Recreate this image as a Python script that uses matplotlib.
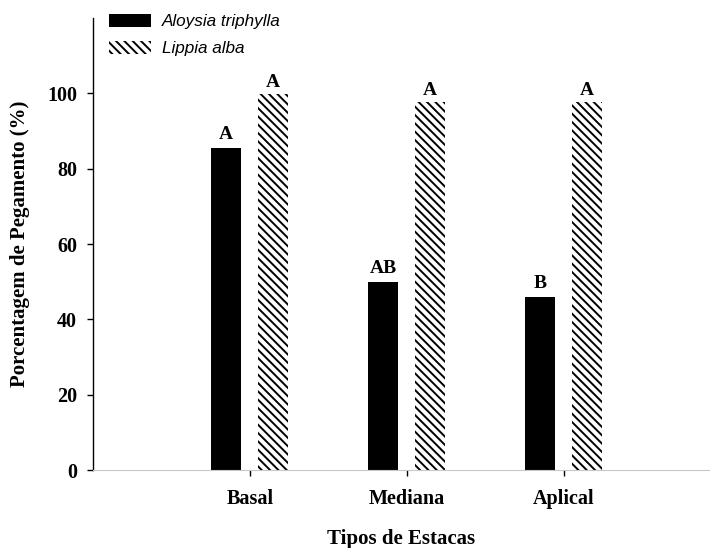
import matplotlib
matplotlib.use("Agg")
import matplotlib.pyplot as plt
import numpy as np

categories = ["Basal", "Mediana", "Aplical"]
aloysia = [85.5, 50.0, 46.0]
lippia = [99.8, 97.6, 97.6]
letters_aloysia = ["A", "AB", "B"]
letters_lippia = ["A", "A", "A"]
series_names = ["Aloysia triphylla", "Lippia alba"]
yticks = [0, 20, 40, 60, 80, 100]

plt.rcParams['hatch.linewidth'] = 1.4

fig = plt.figure(figsize=(7.10, 5.48), dpi=100)
ax = fig.add_axes([93/710, 78/548, (710-93)/710, (470-18)/548])

x = np.arange(1, len(categories) + 1)
w = 0.19
b1 = ax.bar(x - 0.153, aloysia, w, color="black", linewidth=0, label=series_names[0])
b2 = ax.bar(x + 0.147, lippia, w, color="white", edgecolor="black", linewidth=0,
            hatch="\\\\\\\\", label=series_names[1])

serif = "Liberation Serif"
for xi, v, t in zip(x - 0.153, aloysia, letters_aloysia):
    ax.text(xi, v + 1.2, t, ha="center", va="bottom", fontsize=14,
            fontweight="bold", family=serif)
for xi, v, t in zip(x + 0.147, lippia, letters_lippia):
    ax.text(xi, v + 0.8, t, ha="center", va="bottom", fontsize=14,
            fontweight="bold", family=serif)

ax.set_xlim(0, 3.93)
ax.set_ylim(0, 120)
ax.set_yticks(yticks)
ax.set_xticks(x)
ax.set_xticklabels(categories)
for lab in ax.get_xticklabels() + ax.get_yticklabels():
    lab.set_family(serif)
    lab.set_fontweight("bold")
    lab.set_fontsize(14.5)

ax.spines["top"].set_visible(False)
ax.spines["right"].set_visible(False)
ax.spines["bottom"].set_color("#c8c8c8")
ax.spines["left"].set_linewidth(1.0)
ax.tick_params(axis="y", direction="out", length=4.5, width=1, pad=7)
ax.tick_params(axis="x", direction="out", length=4, width=1, pad=10)

ax.set_xlabel("Tipos de Estacas", family=serif, fontweight="bold", fontsize=15, labelpad=14)
ax.set_ylabel("Porcentagem de Pegamento (%)", family=serif, fontweight="bold", fontsize=15, labelpad=12)

leg = ax.legend(loc="upper left", bbox_to_anchor=(109/710, 1 - 14/548),
                bbox_transform=fig.transFigure, frameon=False,
                prop={"family": "Liberation Sans", "style": "italic", "size": 12.3},
                handlelength=2.45, handleheight=0.75, handletextpad=0.65, labelspacing=0.7,
                borderaxespad=0, borderpad=0)

fig.savefig("out.png", dpi=100)
